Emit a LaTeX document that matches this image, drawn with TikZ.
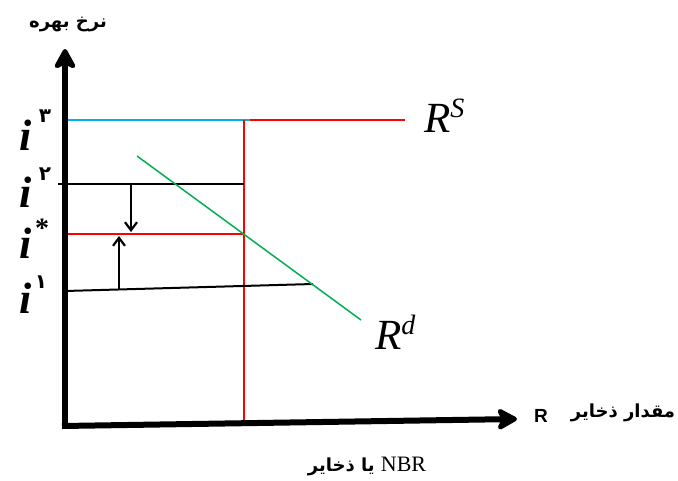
\documentclass[tikz,border=0pt]{standalone}
\usepackage{fontspec}
\setmainfont{Liberation Serif}
\newfontfamily\arabicfont[Script=Arabic]{DejaVu Sans}
\newfontfamily\sansfnt{Liberation Sans}
\TeXXeTstate=1
\usetikzlibrary{arrows.meta}
\definecolor{skyb}{HTML}{00B0F0}
\definecolor{grn}{HTML}{00B050}
\begin{document}
\begin{tikzpicture}[x=1pt,y=-1pt,
  axis/.style={line width=6pt,-{Stealth[length=24pt,width=26pt,inset=6pt,round]}},
  thinline/.style={line width=1.5pt},
  small/.style={line width=2.2pt,-{Straight Barb[length=8pt,width=12pt,line width=2.2pt]}},
  ilab/.style={inner sep=0pt,anchor=base,font=\fontsize{44}{48}\selectfont\bfseries\itshape},
  sup/.style={inner sep=0pt,font=\arabicfont\bfseries\fontsize{20}{24}\selectfont},
  rlab/.style={inner sep=0pt,anchor=base west,font=\fontsize{43}{46}\selectfont\itshape},
  fa/.style={inner sep=0pt,font=\arabicfont\bfseries\fontsize{18}{21}\selectfont}]
\useasboundingbox (0,0) rectangle (678,480);
% coordinates
\coordinate (O) at (65,428);
\coordinate (Ytip) at (65,49);
\coordinate (Xs) at (62,426);
\coordinate (Xtip) at (517,419);
\coordinate (b3a) at (65,120);
\coordinate (b3b) at (250,120);
\coordinate (r3b) at (405,120);
\coordinate (vtop) at (244,120);
\coordinate (vbot) at (244,421);
\coordinate (k2a) at (58,184);
\coordinate (k2b) at (244,184);
\coordinate (sa) at (65,234);
\coordinate (sb) at (244,234);
\coordinate (k1a) at (65,291);
\coordinate (k1b) at (313,284);
\coordinate (ga) at (137,156);
\coordinate (gb) at (361,320);
\coordinate (d1) at (131,185);
\coordinate (d2) at (131,232);
\coordinate (u1) at (119,290);
\coordinate (u2) at (119,236);
% horizontal lines
\draw[thinline,skyb,line width=2pt] (b3a) -- (b3b);
\draw[thinline,red] (b3b) -- (r3b);
\draw[thinline,red] (vtop) -- (vbot);
\draw[black,line width=2pt] (k2a) -- (k2b);
\draw[thinline,red] (sa) -- (sb);
\draw[black,line width=2pt] (k1a) -- (k1b);
\draw[thinline,grn] (ga) -- (gb);
% small arrows
\draw[small] (d1) -- (d2);
\draw[small] (u1) -- (u2);
% axes
\draw[axis] (O) -- (Ytip);
\draw[axis] (Xs) -- (Xtip);
% i labels
\node[ilab] (i3) at (26,150) {i};
\node[sup] (s3) at (45,116) {۳};
\node[ilab] (i2) at (26,207) {i};
\node[sup] (s2) at (45,174) {۲};
\node[ilab] (is) at (26,258) {i};
\node[inner sep=0pt,font=\bfseries\fontsize{28}{30}\selectfont] (ss) at (42,228) {*};
\node[ilab] (i1) at (26,313) {i};
\node[sup] (s1) at (41,282) {۱};
% R labels
\node[rlab] (RS) at (424,132) {R\raisebox{15pt}{\fontsize{28}{30}\selectfont S}};
\node[rlab] (Rd) at (375,349) {R\raisebox{15pt}{\fontsize{28}{30}\selectfont d}};
% axis labels
\node[fa] (ylab) at (68,24) {\beginR نرخ بهره\endR};
\node[inner sep=0pt,font=\sansfnt\bfseries\fontsize{19}{21}\selectfont] (Rx) at (541,416) {R};
\node[fa] (xlab) at (623,413) {\beginR مقدار ذخایر\endR};
\node[inner sep=0pt] (blab) at (367,466) {\arabicfont\bfseries\fontsize{18}{21}\selectfont\beginR\beginL{\rmfamily\mdseries\fontsize{22}{24}\selectfont NBR}\endL{} یا ذخایر\endR};
\end{tikzpicture}
\end{document}
